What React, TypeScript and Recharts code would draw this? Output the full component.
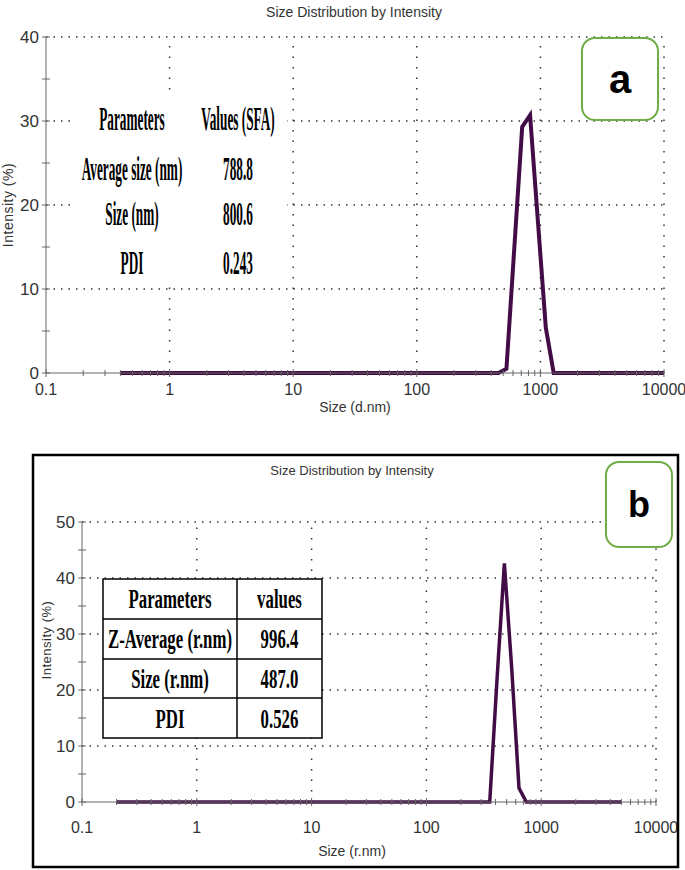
import React from 'react';
import { LineChart, Line, XAxis, YAxis, ReferenceLine } from 'recharts';

// diameter classes (d.nm) of panel a
const SIZES_D = [
  0.4, 0.4632, 0.5365, 0.6213, 0.7195, 0.8332, 0.9649, 1.117, 1.294, 1.499,
  1.736, 2.01, 2.328, 2.696, 3.122, 3.615, 4.187, 4.849, 5.615, 6.503,
  7.531, 8.721, 10.1, 11.7, 13.54, 15.69, 18.17, 21.04, 24.36, 28.21,
  32.67, 37.84, 43.82, 50.75, 58.77, 68.06, 78.82, 91.28, 105.7, 122.4,
  141.8, 164.2, 190.1, 220.2, 255, 295.3, 342, 396.1, 458.7, 531.2,
  615.1, 712.4, 825, 955.4, 1106, 1281, 1484, 1718, 1990, 2305,
  2669, 3091, 3580, 4145, 4801, 5560, 6439, 7456, 8635, 10000,
];
const INTENSITY_A = [
  0, 0, 0, 0, 0, 0, 0, 0, 0, 0,
  0, 0, 0, 0, 0, 0, 0, 0, 0, 0,
  0, 0, 0, 0, 0, 0, 0, 0, 0, 0,
  0, 0, 0, 0, 0, 0, 0, 0, 0, 0,
  0, 0, 0, 0, 0, 0, 0, 0, 0, 0.5,
  14.9, 29.3, 30.7, 18.0, 5.4, 0, 0, 0, 0, 0,
  0, 0, 0, 0, 0, 0, 0, 0, 0, 0,
];

// radius classes (r.nm) of panel b
const SIZES_R = [
  0.2, 0.2316, 0.2683, 0.3107, 0.3598, 0.4166, 0.4825, 0.5585, 0.647, 0.7495,
  0.868, 1.005, 1.164, 1.348, 1.561, 1.808, 2.094, 2.425, 2.808, 3.252,
  3.766, 4.361, 5.05, 5.85, 6.77, 7.845, 9.085, 10.52, 12.18, 14.11,
  16.34, 18.92, 21.91, 25.38, 29.39, 34.03, 39.41, 45.64, 52.85, 61.2,
  70.9, 82.1, 95.05, 110.1, 127.5, 147.7, 171, 198.1, 229.4, 265.6,
  307.6, 356.2, 412.5, 477.7, 553, 640.5, 742, 859, 995, 1153,
  1335, 1546, 1790, 2073, 2401, 2780, 3220, 3728, 4318, 5000,
];
const INTENSITY_B = [
  0, 0, 0, 0, 0, 0, 0, 0, 0, 0,
  0, 0, 0, 0, 0, 0, 0, 0, 0, 0,
  0, 0, 0, 0, 0, 0, 0, 0, 0, 0,
  0, 0, 0, 0, 0, 0, 0, 0, 0, 0,
  0, 0, 0, 0, 0, 0, 0, 0, 0, 0,
  0, 0, 22.0, 42.6, 24.0, 2.5, 0, 0, 0, 0,
  0, 0, 0, 0, 0, 0, 0, 0, 0, 0,
];

const X_MAJOR = [0.1, 1, 10, 100, 1000, 10000];
const X_MINOR = [
  0.2, 0.3, 0.4, 0.5, 0.6, 0.7, 0.8, 0.9,
  2, 3, 4, 5, 6, 7, 8, 9,
  20, 30, 40, 50, 60, 70, 80, 90,
  200, 300, 400, 500, 600, 700, 800, 900,
  2000, 3000, 4000, 5000, 6000, 7000, 8000, 9000,
];
const X_GRID = [1, 10, 100, 1000, 10000];
const Y_TICKS_A = [0, 5, 10, 15, 20, 25, 30, 35, 40];
const Y_GRID_A = [10, 20, 30, 40];
const Y_TICKS_B = [0, 5, 10, 15, 20, 25, 30, 35, 40, 45, 50];
const Y_GRID_B = [10, 20, 30, 40, 50];

const PARAMS_A = [
  ['Parameters', 'Values (SFA)'],
  ['Average size (nm)', '788.8'],
  ['Size (nm)', '800.6'],
  ['PDI', '0.243'],
];
const PARAMS_B = [
  ['Parameters', 'values'],
  ['Z-Average (r.nm)', '996.4'],
  ['Size (r.nm)', '487.0'],
  ['PDI', '0.526'],
];

const dataA = SIZES_D.map((s, i) => ({ size: s, intensity: INTENSITY_A[i] }));
const dataB = SIZES_R.map((s, i) => ({ size: s, intensity: INTENSITY_B[i] }));

const SANS = "'Liberation Sans Narrow', 'Liberation Sans', Arial, sans-serif";
const SERIF = "'Liberation Serif', 'Times New Roman', serif";
const LINE = '#420c47';
const AXIS = '#666';
const DOTS = '#333';

const XTick = (props: any) => {
  const { x, y, payload, labelDy } = props;
  const major = X_MAJOR.includes(payload.value);
  return (
    <g>
      <line x1={x} x2={x} y1={y - (major ? 4 : 3)} y2={y + (major ? 4 : 3)} stroke={AXIS} />
      {major && (
        <text x={x} y={y + labelDy} textAnchor="middle" fontFamily={SANS} fontSize={16} fill="#333">
          {payload.value}
        </text>
      )}
    </g>
  );
};

const YTick = (props: any) => {
  const { x, y, payload } = props;
  const major = payload.value % 10 === 0;
  return (
    <g>
      <line x1={x - 4} x2={x + 4} y1={y} y2={y} stroke={AXIS} />
      {major && (
        <text x={x - 7} y={y + 6} textAnchor="end" fontFamily={SANS} fontSize={17} fill="#333">
          {payload.value}
        </text>
      )}
    </g>
  );
};

function SizeChart({ data, yTicks, yGrid, yMax, width, height, margin, yWidth, xHeight, labelDy, strokeWidth }: any) {
  return (
    <LineChart width={width} height={height} data={data} margin={margin}>
      {yGrid.map((v: number) => (
        <ReferenceLine key={'h' + v} y={v} stroke={DOTS} strokeWidth={1.5} strokeDasharray="1.5 6" />
      ))}
      {X_GRID.map((v: number) => (
        <ReferenceLine key={'v' + v} x={v} stroke={DOTS} strokeWidth={1.5} strokeDasharray="1.5 9" />
      ))}
      <XAxis
        dataKey="size"
        type="number"
        scale="log"
        domain={[0.1, 10000]}
        allowDataOverflow
        ticks={[...X_MAJOR, ...X_MINOR]}
        interval={0}
        tickSize={0}
        tickMargin={0}
        tickLine={false}
        height={xHeight}
        axisLine={{ stroke: AXIS }}
        tick={<XTick labelDy={labelDy} />}
      />
      <YAxis
        type="number"
        domain={[0, yMax]}
        ticks={yTicks}
        interval={0}
        tickSize={0}
        tickMargin={0}
        tickLine={false}
        width={yWidth}
        axisLine={{ stroke: AXIS }}
        tick={<YTick />}
      />
      <Line
        type="linear"
        dataKey="intensity"
        stroke={LINE}
        strokeWidth={strokeWidth}
        dot={false}
        isAnimationActive={false}
      />
    </LineChart>
  );
}

function ParamText({ x, y, text, size, sx }: any) {
  return (
    <text
      transform={`translate(${x},${y}) scale(${sx},1)`}
      textAnchor="middle"
      fontFamily={SERIF}
      fontWeight="bold"
      fontSize={size}
      fill="#000"
    >
      {text}
    </text>
  );
}

export default function App() {
  const rowsA = [130, 180, 225, 274];
  const rowsB = [608, 648, 688, 728];
  return (
    <div style={{ position: 'absolute', left: 0, top: 0, width: 685, height: 870, background: '#fff' }}>
      <div style={{ position: 'absolute', left: 0, top: 0 }}>
        <SizeChart
          data={dataA}
          yTicks={Y_TICKS_A}
          yGrid={Y_GRID_A}
          yMax={40}
          width={685}
          height={420}
          margin={{ top: 37, right: 21, bottom: 0, left: 0 }}
          yWidth={46}
          xHeight={47}
          labelDy={22}
          strokeWidth={4}
        />
      </div>
      <div style={{ position: 'absolute', left: 0, top: 455 }}>
        <SizeChart
          data={dataB}
          yTicks={Y_TICKS_B}
          yGrid={Y_GRID_B}
          yMax={50}
          width={685}
          height={415}
          margin={{ top: 67, right: 29, bottom: 0, left: 0 }}
          yWidth={82}
          xHeight={68}
          labelDy={31}
          strokeWidth={3.5}
        />
      </div>
      <svg width={685} height={870} style={{ position: 'absolute', left: 0, top: 0 }}>
        {/* panel a */}
        <text x={354} y={17} textAnchor="middle" fontFamily={SANS} fontSize={14} fill="#333">
          Size Distribution by Intensity
        </text>
        <text x={355} y={412} textAnchor="middle" fontFamily={SANS} fontSize={14} fill="#333">
          Size (d.nm)
        </text>
        <text transform="translate(13,205) rotate(-90)" textAnchor="middle" fontFamily={SANS} fontSize={14} fill="#333" letterSpacing={0.5}>
          Intensity (%)
        </text>
        <rect x={76} y={96} width={211} height={189} fill="#fff" />
        {PARAMS_A.map((r, i) => (
          <g key={'pa' + i}>
            <ParamText x={132} y={rowsA[i]} text={r[0]} size={34} sx={0.39} />
            <ParamText x={238} y={rowsA[i]} text={r[1]} size={34} sx={0.39} />
          </g>
        ))}
        <rect x={582} y={38} width={76} height={82} rx={13} fill="#fff" stroke="#70ad47" strokeWidth={2} />
        <text x={620} y={93} textAnchor="middle" fontFamily="'Liberation Sans', Arial" fontWeight="bold" fontSize={40} fill="#000">
          a
        </text>

        {/* panel b */}
        <rect x={33} y={455} width={645} height={412} fill="none" stroke="#000" strokeWidth={2.5} />
        <text x={352} y={475} textAnchor="middle" fontFamily={SANS} fontSize={13} fill="#333">
          Size Distribution by Intensity
        </text>
        <text x={352} y={856} textAnchor="middle" fontFamily={SANS} fontSize={14} fill="#333">
          Size (r.nm)
        </text>
        <text transform="translate(51,640) rotate(-90)" textAnchor="middle" fontFamily={SANS} fontSize={13} fill="#333" letterSpacing={0.5}>
          Intensity (%)
        </text>
        <rect x={103} y={579} width={219} height={159} fill="#fff" stroke="#000" strokeWidth={1.5} />
        <line x1={237} x2={237} y1={579} y2={738} stroke="#000" strokeWidth={1.5} />
        {[619, 659, 698].map((y) => (
          <line key={'rl' + y} x1={103} x2={322} y1={y} y2={y} stroke="#000" strokeWidth={1.5} />
        ))}
        {PARAMS_B.map((r, i) => (
          <g key={'pb' + i}>
            <ParamText x={170} y={rowsB[i]} text={r[0]} size={28} sx={0.6} />
            <ParamText x={279.5} y={rowsB[i]} text={r[1]} size={28} sx={0.6} />
          </g>
        ))}
        <rect x={606} y={462} width={66} height={85} rx={13} fill="#fff" stroke="#70ad47" strokeWidth={2} />
        <text x={639} y={517} textAnchor="middle" fontFamily="'Liberation Sans', Arial" fontWeight="bold" fontSize={36} fill="#000">
          b
        </text>
      </svg>
    </div>
  );
}
